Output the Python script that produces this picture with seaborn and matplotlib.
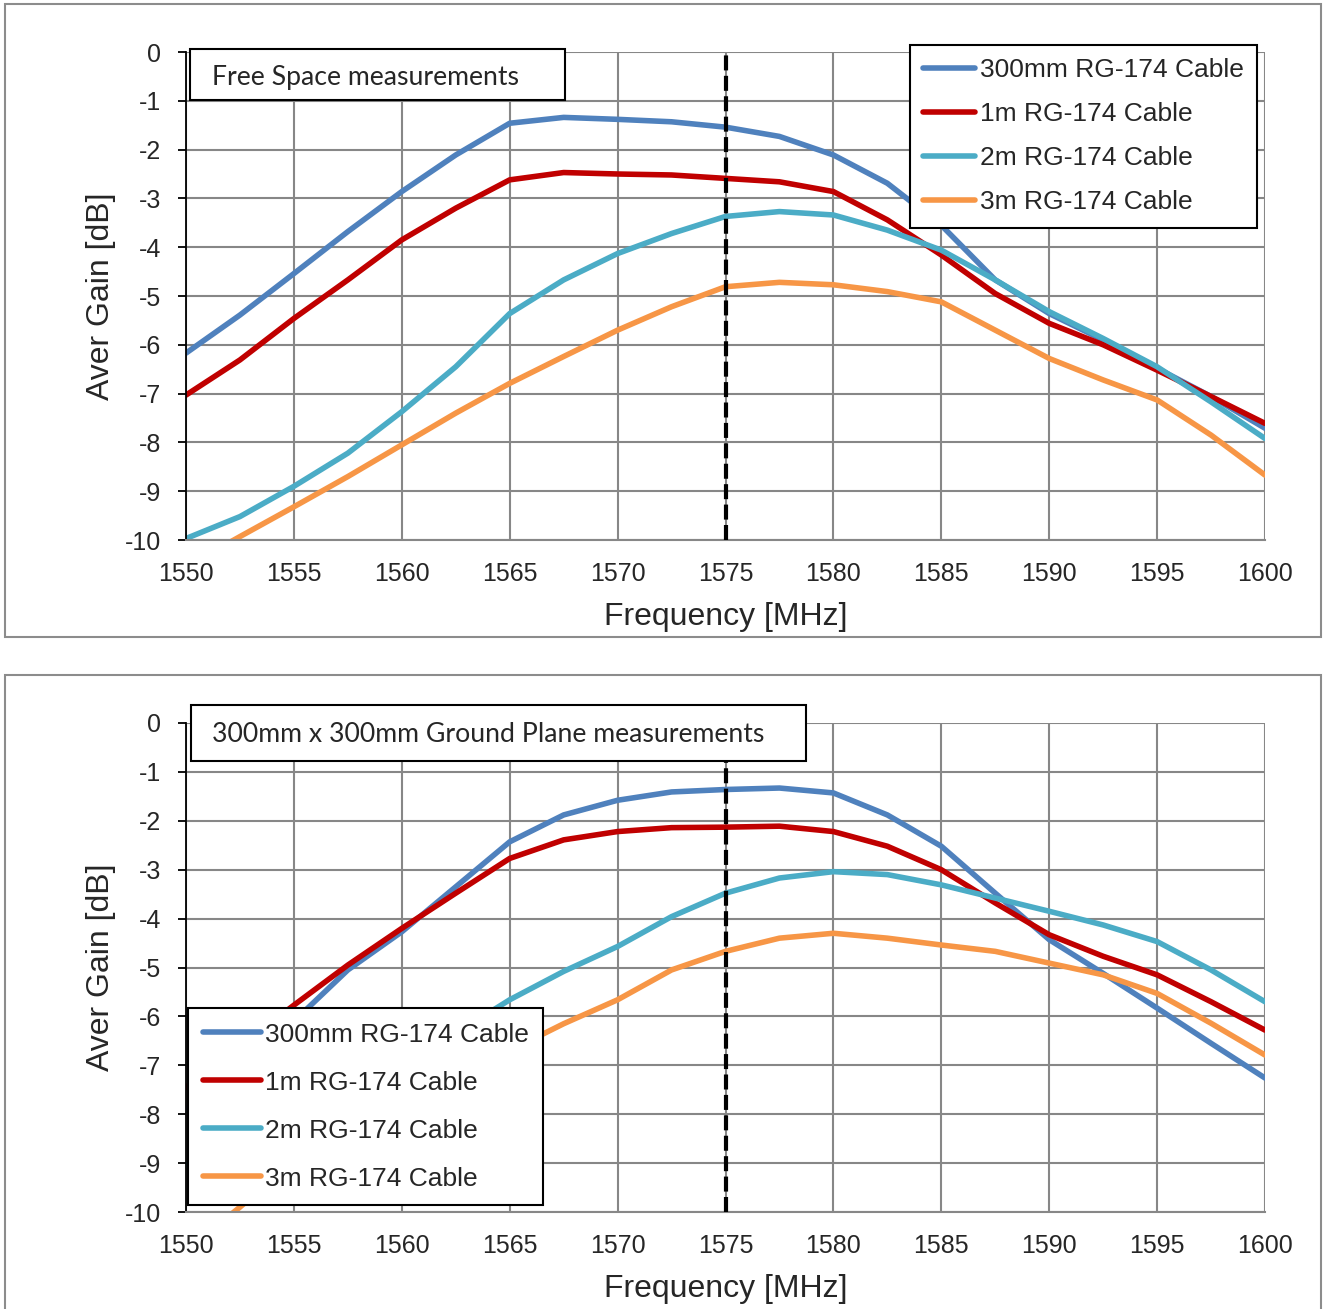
import numpy as np
import pandas as pd
import matplotlib
matplotlib.use('Agg')
import matplotlib.pyplot as plt
from matplotlib.patches import Rectangle
import seaborn as sns

# %%
# frequency points [MHz]
freq = [1550, 1552.5, 1555, 1557.5, 1560, 1562.5, 1565, 1567.5, 1570, 1572.5, 1575,
        1577.5, 1580, 1582.5, 1585, 1587.5, 1590, 1592.5, 1595, 1597.5, 1600]

cables = ['300mm RG-174 Cable', '1m RG-174 Cable', '2m RG-174 Cable', '3m RG-174 Cable']
colors = ['#4F81BD', '#C00000', '#4BACC6', '#F79646']

# free space gain [dB]
fs_300mm = [-6.17, -5.39, -4.54, -3.68, -2.86, -2.11, -1.46, -1.34, -1.38, -1.43, -1.54,
            -1.73, -2.11, -2.69, -3.55, -4.67, -5.36, -5.90, -6.48, -7.06, -7.71]
fs_1m = [-7.03, -6.31, -5.46, -4.67, -3.85, -3.20, -2.62, -2.47, -2.50, -2.52, -2.59,
         -2.66, -2.86, -3.44, -4.16, -4.95, -5.56, -6.00, -6.52, -7.06, -7.61]
fs_2m = [-9.97, -9.52, -8.90, -8.22, -7.37, -6.45, -5.36, -4.67, -4.13, -3.72, -3.37,
         -3.27, -3.34, -3.65, -4.06, -4.67, -5.32, -5.87, -6.45, -7.17, -7.92]
fs_3m = [-10.55, -9.93, -9.32, -8.70, -8.05, -7.40, -6.79, -6.24, -5.70, -5.22, -4.81,
         -4.72, -4.77, -4.91, -5.12, -5.70, -6.28, -6.72, -7.13, -7.85, -8.67]

# 300mm x 300mm ground plane gain [dB]
gp_300mm = [-7.90, -7.00, -6.10, -5.05, -4.27, -3.35, -2.43, -1.88, -1.58, -1.41, -1.36,
            -1.33, -1.43, -1.88, -2.52, -3.48, -4.43, -5.12, -5.83, -6.55, -7.26]
gp_1m = [-7.45, -6.62, -5.77, -4.95, -4.20, -3.48, -2.77, -2.39, -2.22, -2.14, -2.13,
         -2.11, -2.22, -2.52, -3.00, -3.68, -4.33, -4.77, -5.15, -5.70, -6.28]
gp_2m = [-9.04, -8.50, -8.00, -7.50, -6.95, -6.35, -5.66, -5.08, -4.57, -3.96, -3.48,
         -3.17, -3.04, -3.10, -3.31, -3.58, -3.85, -4.13, -4.47, -5.05, -5.70]
gp_3m = [-10.80, -9.90, -8.95, -8.30, -7.75, -7.20, -6.70, -6.15, -5.66, -5.05, -4.67,
         -4.40, -4.30, -4.40, -4.54, -4.67, -4.91, -5.15, -5.53, -6.14, -6.79]

gps_freq = 1575
yticks = list(range(0, -11, -1))
xticks = list(range(1550, 1601, 5))

W, H = 1325, 1309


def long_df(series):
    rows = []
    for name, vals in zip(cables, series):
        rows.append(pd.DataFrame({'freq': freq, 'gain': vals, 'cable': name}))
    return pd.concat(rows, ignore_index=True)


df_fs = long_df([fs_300mm, fs_1m, fs_2m, fs_3m])
df_gp = long_df([gp_300mm, gp_1m, gp_2m, gp_3m])

# %%
sns.set_style('white')
plt.rcParams['font.family'] = ['Liberation Sans', 'DejaVu Sans']
plt.rcParams['axes.unicode_minus'] = False

fig = plt.figure(figsize=(W / 100, H / 100), dpi=100)


def fig_rect(x0, y0, x1, y1):
    return [x0 / W, 1 - y1 / H, (x1 - x0) / W, (y1 - y0) / H]


def draw_panel(df, ax_box, note, note_box, note_y, leg_xy, leg_spacing, leg_handle,
               leg_pad, leg_border):
    ax = fig.add_axes(fig_rect(*ax_box))
    sns.lineplot(data=df, x='freq', y='gain', hue='cable', palette=colors,
                 linewidth=4.0, ax=ax, sort=False)
    ax.axvline(gps_freq, color='black', lw=3, ls=(0, (3.6, 1.3)), dash_capstyle='butt', zorder=5)
    ax.set_xlim(1550, 1600)
    ax.set_ylim(-10, 0)
    ax.set_xticks(xticks)
    ax.set_yticks(yticks)
    ax.set_xticklabels([str(t) for t in xticks])
    ax.set_yticklabels([str(t) for t in yticks])
    ax.grid(True, color='#878787', lw=1.5)
    for s in ['top', 'right']:
        ax.spines[s].set_visible(False)
    ax.spines['bottom'].set_color('#878787')
    ax.spines['bottom'].set_linewidth(1.5)
    ax.spines['left'].set_color('black')
    ax.spines['left'].set_linewidth(1.3)
    ax.tick_params(axis='y', direction='out', length=6, width=1.3, color='black',
                   labelsize=18, pad=12, left=True)
    ax.tick_params(axis='x', length=0, labelsize=18, pad=15.5)
    ax.set_xlabel('Frequency [MHz]', fontsize=23, va='center')
    ax.set_ylabel('Aver Gain [dB]', fontsize=23, va='center')
    ax_w = ax_box[2] - ax_box[0]
    ax_h = ax_box[3] - ax_box[1]
    ax.xaxis.set_label_coords(0.5, -77 / ax_h)
    ax.yaxis.set_label_coords((101 - ax_box[0]) / ax_w, 0.5)

    leg = ax.legend(loc='upper left', bbox_to_anchor=(leg_xy[0] / W, 1 - leg_xy[1] / H),
                    bbox_transform=fig.transFigure, borderaxespad=0, fontsize=19,
                    frameon=True, fancybox=False, edgecolor='black', framealpha=1,
                    handlelength=leg_handle, handletextpad=leg_pad, labelspacing=leg_spacing,
                    borderpad=leg_border)
    leg.get_frame().set_linewidth(1.5)
    leg.set_zorder(10)
    for line in leg.get_lines():
        line.set_linewidth(4.0)

    x0, y0, x1, y1 = note_box
    fig.patches.append(Rectangle((x0 / W, 1 - y1 / H), (x1 - x0) / W, (y1 - y0) / H,
                                 transform=fig.transFigure, facecolor='white',
                                 edgecolor='black', lw=1.5, zorder=4))
    fig.text(212 / W, 1 - note_y / H, note, fontsize=19.2,
             family=['Lato', 'DejaVu Sans'], va='center', ha='left', zorder=5)
    return ax


# panel frames
for (x0, y0, x1, y1) in [(5, 4, 1321, 637), (5, 675, 1321, 1330)]:
    fig.patches.append(Rectangle((x0 / W, 1 - y1 / H), (x1 - x0) / W, (y1 - y0) / H,
                                 transform=fig.transFigure, fill=False,
                                 edgecolor='#8c8c8c', lw=1.5, zorder=-1))

draw_panel(df_fs, (186, 52, 1265, 540), 'Free Space measurements', (190, 49, 565, 100), 78,
           (910, 45), 0.76, 1.95, 0.2, 0.5)
draw_panel(df_gp, (186, 723, 1265, 1212), '300mm x 300mm Ground Plane measurements',
           (191, 705, 806, 761), 734, (188, 1008), 0.91, 2.2, 0.15, 0.55)

plt.savefig('out.png', dpi=100)
